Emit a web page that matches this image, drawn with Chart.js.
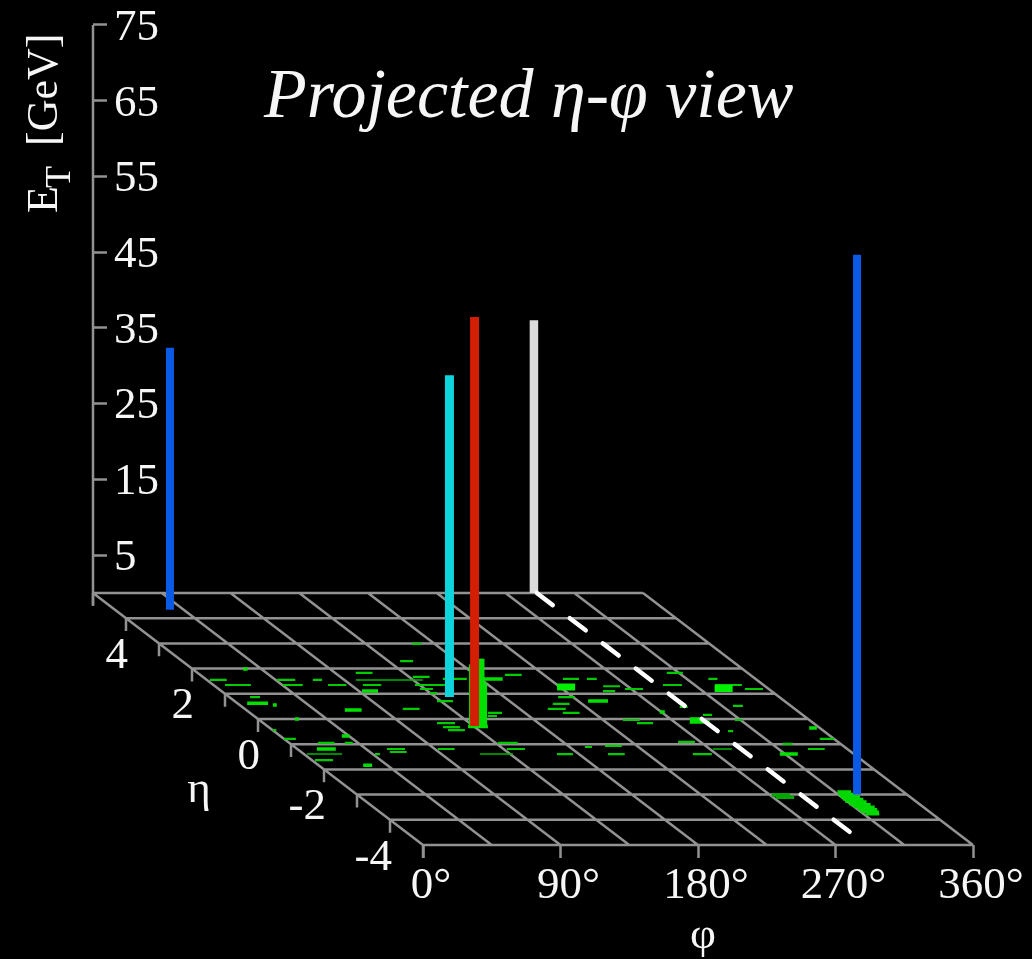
<!DOCTYPE html>
<html>
<head>
<meta charset="utf-8">
<style>
  html, body { margin: 0; padding: 0; background: #000; }
  canvas { display: block; }
</style>
<script src="https://cdn.jsdelivr.net/npm/chart.js@4"></script>
</head>
<body>
<canvas id="myChart" width="1032" height="959"></canvas>
<script>
// axis labels
const etTicks = [5, 15, 25, 35, 45, 55, 65, 75];
const phiTicks = [0, 90, 180, 270, 360];
const etaTicks = [4, 2, 0, -2, -4];
// floor grid
const phiGrid = [0, 45, 90, 135, 180, 225, 270, 315, 360];
const etaGrid = [5, 4, 3, 2, 1, 0, -1, -2, -3, -4, -5];

// tall towers, one per object
const jetPhi = [35.9, 327.3];
const jetEta = [4.33, -3.0];
const jetEt = [34.6, 71.3];
const electronPhi = [144.1];
const electronEta = [0.87];
const electronEt = [42.5];
const muonPhi = [135.7];
const muonEta = [-0.28];
const muonEt = [54];
const metPhi = [288.6];
const metEta = [5];
const metEt = [36];
// missing energy trace on the floor
const metTracePhi = [290.5, 290.5];
const metTraceEta = [5, -4.48];
// green tower under the red one
const hadPhi = [133.6, 141.5, 139.8];
const hadEta = [-0.3, -0.3, -0.3];
const hadEt = [8.2, 5.8, 8.95];

// calorimeter cells on the floor
const cellEta = [2.98, 2.30, 1.83, 1.83, 1.75, 1.67, 1.59, 1.59, 1.59, 1.59,
  1.55, 1.55, 1.55, 1.35, 1.35, 1.35, 1.35, 1.35, 1.35, 1.35, 1.30,
  1.19, 1.19, 1.19, 1.11, 1.03, 0.87, 0.87, 0.71, 0.60, 0.52, 0.48, 0.40, 0.40,
  0.24, 0.24, 0.16, 0.12, -0.04, -0.04, -0.16, -0.16, -0.32, -0.44, -0.44, -0.48,
  -0.79, -0.79, -0.91, -0.95, -0.95, -0.95, -0.99, -1.07, -1.11,
  -1.19, -1.19, -1.19, -1.19, -1.31, -1.39, -1.39, -1.39, -1.39, -1.63];
const cellPhi = [165, 142.7, 103.5, 307.1, 199.4, 137.4, 155.3, 233.9, 249.6, 329.1,
  2, 45.8, 69.4, 7.5, 45.5, 75, 97.8, 131.9, 294.2, 328.2, 254,
  131.7, 265.9, 344.4, 249.8, 134.8, 13.6, 215.2, 132.5, 205.9, 322.1, 286.4, 103.4, 198.3,
  155.7, 204.7, 294.7, 153, 238, 311.3, 113.7, 244.6, 114.2, 0, 114.9, 297.3,
  0, 350.6, 255.3, 18.6, 36.3, 136.5, 322.1, 204, 190,
  58.7, 92, 137.2, 334.2, 58, 46.5, 165.6, 199, 254.6, 2.1];
const cellSpan = [6.5, 8.5, 11, 10.5, 11, 11, 15.7, 10.5, 6.5, 6,
  11, 12, 6, 17, 13, 12, 12, 19.6, 12.4, 17.7, 11,
  8.5, 11.8, 11.8, 7.9, 4.6, 6.5, 11, 10.5, 11, 6.5, 5.2, 11, 11.8,
  9.2, 11, 6, 6, 11, 5.2, 11.8, 10.5, 11, 2.5, 11, 3.3,
  7.7, 9.4, 11, 11, 5.2, 13, 6.5, 11, 4.6,
  11.8, 11, 11.8, 11, 11, 3.3, 10.5, 11, 12.4, 11.8];
// long faint strips
const thinEta = [1.55, -1.39, -1.39, -1.19];
const thinPhi = [97.5, 2, 115.2, 272];
const thinSpan = [43.8, 23, 21.6, 12.4];
// small hot spots
const hotEta = [1.98, 1.59, 1.11, 0.71, 0.63, 0.56, 0.36, 0.28, 0, 0, -0.12, -0.3, -0.36, -0.67, -1.19, -1.39, -1.83];
const hotPhi = [33, 181.5, 92, 231.4, 6.5, 21.8, 64.6, 269, 24.2, 282.7, 280, 131, 353, 40.4, 12.8, 311.5, 29.3];
const hotSpan = [3, 13, 10.5, 13, 13.7, 2.6, 11, 3.3, 2.6, 6.5, 13, 13, 5, 5, 12.4, 11.8, 5.9];
// big filled blocks
const blockEta = [1.27, 1.21];
const blockPhi = [223.2, 325];
const blockSpan = [11.8, 11.8];
// cluster at the foot of the big blue tower
const clusterEta = [-2.88, -2.98, -3.08, -3.18, -3.28, -3.38, -3.48, -3.58, -3.68, -3.78];
const clusterPhi = [317, 315.5, 314.5, 314, 313.5, 314, 314.5, 315, 315, 316];
const clusterSpan = [9, 11, 13, 13.5, 14, 14, 14, 13, 12, 9];
// dim patch left of the big blue tower
const patchEta = [-3.02, -3.1];
const patchPhi = [271, 272];
const patchSpan = [12, 12];

const GREY = '#929292';
const TEXT = '#f6f6f6';
const SERIF = '"Liberation Serif", "Times New Roman", serif';

// oblique projection of the floor, eta goes back and to the left
function px(phi, eta) { return phi - 21.6 * (eta + 5); }
function py(eta, et) { return et - 3.328 * (5 - eta); }

function strips(eta, phi, span) {
    let pts = [];
    for (let i = 0; i < eta.length; i++) {
        pts.push({ x: px(phi[i], eta[i]), y: py(eta[i], 0) });
        pts.push({ x: px(phi[i] + span[i], eta[i]), y: py(eta[i], 0) });
        pts.push({ x: 0, y: null });
    }
    return pts;
}

function towers(phi, eta, et) {
    let pts = [];
    for (let i = 0; i < phi.length; i++) {
        pts.push({ x: px(phi[i], eta[i]), y: py(eta[i], 0) });
        pts.push({ x: px(phi[i], eta[i]), y: py(eta[i], et[i]) });
        pts.push({ x: 0, y: null });
    }
    return pts;
}

function floorGrid() {
    let pts = [];
    phiGrid.forEach(p => {
        pts.push({ x: px(p, 5), y: py(5, 0) }, { x: px(p, -5), y: py(-5, 0) }, { x: 0, y: null });
    });
    etaGrid.forEach(e => {
        pts.push({ x: px(0, e), y: py(e, 0) }, { x: px(360, e), y: py(e, 0) }, { x: 0, y: null });
    });
    return pts;
}

function etaTickMarks() {
    let pts = [];
    etaGrid.forEach(e => {
        pts.push({ x: px(0, e), y: py(e, 0) }, { x: px(0, e), y: py(e, -1.7) }, { x: 0, y: null });
    });
    return pts;
}

function line(data, color, width, order, extra) {
    return Object.assign({
        data: data, showLine: true, borderColor: color, backgroundColor: color,
        borderWidth: width, pointRadius: 0, order: order, clip: false, spanGaps: false
    }, extra || {});
}

const datasets = [
    line(floorGrid(), GREY, 2.5, 20),
    line(etaTickMarks(), GREY, 2.5, 20),
    line([{ x: px(0, 5), y: 75 }, { x: px(0, 5), y: py(5, -1.7) }], GREY, 2.5, 20),
    line(strips(thinEta, thinPhi, thinSpan), '#00b400', 1.4, 15),
    line(strips(cellEta, cellPhi, cellSpan), '#00cc00', 2.2, 14),
    line(strips(patchEta, patchPhi, patchSpan), '#00a800', 3.5, 14),
    line(strips(hotEta, hotPhi, hotSpan), '#00e000', 3.5, 13),
    line(strips(blockEta, blockPhi, blockSpan), '#00f000', 7, 12),
    line(strips(clusterEta, clusterPhi, clusterSpan), '#00d800', 2.6, 12),
    line(towers(hadPhi, hadEta, hadEt), '#00e000', 6, 10),
    line(towers(hadPhi.slice(2), hadEta.slice(2), hadEt.slice(2)), '#00e000', 3, 9),
    line(towers(metPhi, metEta, metEt), '#dcdcdc', 8.5, 6),
    line(metTracePhi.map((p, i) => ({ x: px(p, metTraceEta[i]), y: py(metTraceEta[i], 0) })),
        '#ffffff', 4.5, 5, { borderDash: [20, 21.5], borderCapStyle: 'round' }),
    line(towers(electronPhi, electronEta, electronEt), '#10d4dc', 9, 4),
    line(towers(muonPhi, muonEta, muonEt), '#d41e04', 9, 3),
    line(towers(jetPhi, jetEta, jetEt), '#0a5ae6', 8, 2)
];

// texts that have no scale of their own
const textPlugin = {
    id: 'plotTexts',
    afterDraw(chart) {
        const ctx = chart.ctx;
        const xs = chart.scales.x;
        const ys = chart.scales.y;
        ctx.save();
        ctx.fillStyle = TEXT;
        ctx.textBaseline = 'middle';
        ctx.textAlign = 'right';
        ctx.font = '45px ' + SERIF;
        etaTicks.forEach(e => {
            ctx.fillText(String(e), xs.getPixelForValue(px(0, e)) + 2, ys.getPixelForValue(py(e, 0)) + 38);
        });
        ctx.textAlign = 'center';
        ctx.fillText('η', 199, 790);
        ctx.fillText('φ', 703, 936);

        ctx.textAlign = 'left';
        ctx.textBaseline = 'alphabetic';
        ctx.font = 'italic 70px ' + SERIF;
        ctx.fillText('Projected η-φ view', 264, 117);

        // rotated ET title with its subscript
        ctx.translate(57, 213);
        ctx.rotate(-Math.PI / 2);
        ctx.font = '44px ' + SERIF;
        ctx.fillText('E', 0, 0);
        ctx.font = '36px ' + SERIF;
        ctx.fillText('T', 25, 13);
        ctx.font = '44px ' + SERIF;
        ctx.fillText('[GeV]', 67, 0);
        ctx.restore();
    }
};

const myChart = new Chart(document.getElementById('myChart'), {
    type: 'scatter',
    data: { datasets: datasets },
    plugins: [textPlugin],
    options: {
        responsive: false,
        animation: false,
        events: [],
        layout: { padding: 0 },
        plugins: { legend: { display: false }, title: { display: false }, tooltip: { enabled: false } },
        scales: {
            x: {
                type: 'linear',
                min: -216,
                max: 398.6,
                position: { y: py(-5, 0) },
                afterBuildTicks: scale => { scale.ticks = phiTicks.map(v => ({ value: v })); },
                border: { display: false },
                grid: { drawOnChartArea: false, drawTicks: true, tickLength: 13, tickWidth: 2.5, tickColor: GREY },
                ticks: {
                    autoSkip: false, maxRotation: 0, padding: 1, labelOffset: 8,
                    color: TEXT, font: { family: SERIF, size: 45 },
                    callback: v => v + '°'
                }
            },
            y: {
                type: 'linear',
                position: 'left',
                min: -48.33,
                max: 78.3,
                afterBuildTicks: scale => { scale.ticks = etTicks.map(v => ({ value: v })); },
                afterFit: scale => { scale.width = 93; scale.paddingTop = 0; scale.paddingBottom = 0; },
                border: { display: false },
                grid: { drawOnChartArea: false, drawTicks: true, tickLength: -14, tickWidth: 2.5, tickColor: GREY },
                ticks: {
                    autoSkip: false, mirror: true, padding: 21, labelOffset: 3,
                    color: TEXT, font: { family: SERIF, size: 45 },
                    callback: v => String(v)
                }
            }
        }
    }
});
</script>
</body>
</html>
